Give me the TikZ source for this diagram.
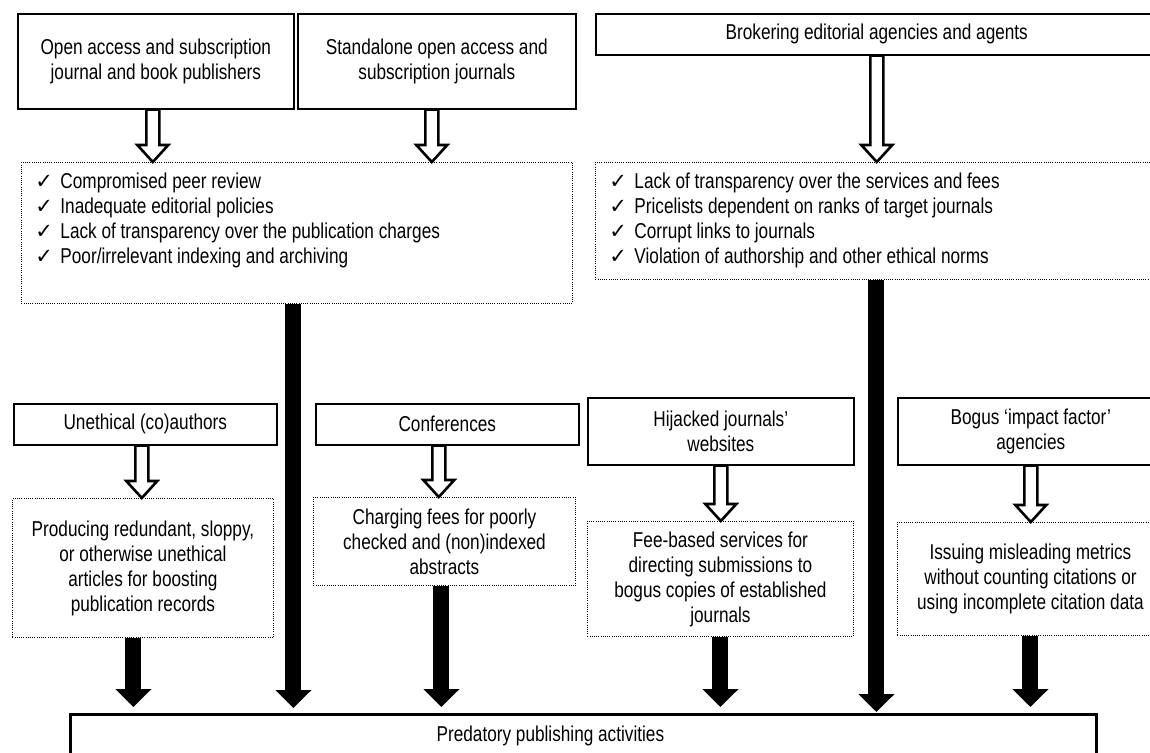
\documentclass[tikz,border=0pt]{standalone}
\usepackage{fontspec}
\setmainfont{Liberation Sans}[FakeStretch=0.8]
\newfontfamily\fontcoche{DejaVu Sans}
\usetikzlibrary{calc,arrows.meta}

\tikzstyle{cadre} = [rectangle, draw=black, line width=1.6pt, inner sep=0pt, align=center]
\tikzstyle{pointille} = [rectangle, draw=black, line width=0.9pt, dash pattern=on 0.9pt off 1.3pt, inner sep=0pt, align=center]
\tikzstyle{creuse} = [draw=black, fill=white, line width=2.6pt]
\tikzstyle{pleine} = [line width=16pt, -{Triangle[length=18pt,width=35pt]}]

\newcommand{\ok}{\makebox[25pt][l]{\fontcoche\fontsize{21}{25}\selectfont ✓}}
\newcommand{\flechecreuse}[2]{%
  \filldraw[creuse] let \p1=(#1), \p2=(#2) in
    (\x1-6.5pt,\y1) -- (\x1-6.5pt,\y2+17pt) -- (\x1-15.5pt,\y2+17pt) -- (\x1,\y2)
    -- (\x1+15.5pt,\y2+17pt) -- (\x1+6.5pt,\y2+17pt) -- (\x1+6.5pt,\y1) -- cycle;}

\begin{document}
\begin{tikzpicture}[x=1pt, y=-1pt, font=\fontsize{21.5}{25}\selectfont]
    \useasboundingbox (0,0) rectangle (1150,752);

    % rangee du haut
    \node (pub) [cadre, anchor=north west, minimum width=276pt, minimum height=95pt] at (17,13) {Open access and subscription\\journal and book publishers};
    \node (seul) [cadre, anchor=north west, minimum width=278pt, minimum height=95pt] at (297,13) {Standalone open access and\\subscription journals};
    \node (courtage) [cadre, anchor=north west, minimum width=562pt, minimum height=41pt] at (595,13) {Brokering editorial agencies and agents};

    \node (d1) [pointille, anchor=north west, inner xsep=14pt] at (21,162) {\parbox[c][141pt][t]{523pt}{\raggedright\rule{0pt}{26pt}%
        \ok Compromised peer review\\
        \ok Inadequate editorial policies\\
        \ok Lack of transparency over the publication charges\\
        \ok Poor/irrelevant indexing and archiving}};
    \node (d2) [pointille, anchor=north west, inner xsep=14pt] at (595,162) {\parbox[c][117pt][t]{534pt}{\raggedright\rule{0pt}{26pt}%
        \ok Lack of transparency over the services and fees\\
        \ok Pricelists dependent on ranks of target journals\\
        \ok Corrupt links to journals\\
        \ok Violation of authorship and other ethical norms}};

    % rangee du bas
    \node (auteurs) [cadre, anchor=north west, minimum width=263pt, minimum height=41pt] at (13,403) {Unethical (co)authors};
    \node (conf) [cadre, anchor=north west, minimum width=263pt, minimum height=41pt] at (315,403) {Conferences};
    \node (pirate) [cadre, anchor=north west, minimum width=266pt, minimum height=67pt] at (587,397) {Hijacked journals’\\websites};
    \node (bogus) [cadre, anchor=north west, minimum width=266pt, minimum height=67pt] at (897,397) {Bogus ‘impact factor’\\agencies};

    \node (dauteurs) [pointille, anchor=north west, minimum width=261pt, minimum height=139pt] at (12,498) {Producing redundant, sloppy,\\or otherwise unethical\\articles for boosting\\publication records};
    \node (dconf) [pointille, anchor=north west, minimum width=262pt, minimum height=88pt] at (313,497) {Charging fees for poorly\\checked and (non)indexed\\abstracts};
    \node (dpirate) [pointille, anchor=north west, minimum width=266pt, minimum height=115pt] at (587,521) {Fee-based services for\\directing submissions to\\bogus copies of established\\journals};
    \node (dbogus) [pointille, anchor=north west, minimum width=266pt, minimum height=113pt] at (897,522) {Issuing misleading metrics\\without counting citations or\\using incomplete citation data};

    \node (sortie) [cadre, line width=2.8pt, anchor=north west, minimum width=1026pt, minimum height=44pt] at (69,713) {\hspace*{-66pt}Predatory publishing activities};

    % fleches creuses
    \flechecreuse{[xshift=-3pt]pub.south}{d1.north}
    \flechecreuse{[xshift=-5pt]seul.south}{d1.north}
    \flechecreuse{courtage.south}{d2.north}
    \flechecreuse{[xshift=-3.5pt]auteurs.south}{dauteurs.north}
    \flechecreuse{[xshift=-8.5pt]conf.south}{dconf.north}
    \flechecreuse{pirate.south}{dpirate.north}
    \flechecreuse{bogus.south}{dbogus.north}

    % fleches pleines
    \coordinate (t1) at ([xshift=-3.5pt]d1.south);
    \coordinate (t2) at ([xshift=-9.5pt]dauteurs.south);
    \coordinate (t3) at ([xshift=-3pt]dconf.south);
    \draw[pleine, shorten >=5pt] (t1) -- (t1 |- sortie.north);
    \draw[pleine, shorten >=1pt] (d2.south) -- (d2.south |- sortie.north);
    \draw[pleine, shorten >=6pt] (t2) -- (t2 |- sortie.north);
    \draw[pleine, shorten >=6pt] (t3) -- (t3 |- sortie.north);
    \draw[pleine, shorten >=6pt] (dpirate.south) -- (dpirate.south |- sortie.north);
    \draw[pleine, shorten >=6pt] (dbogus.south) -- (dbogus.south |- sortie.north);
\end{tikzpicture}
\end{document}
